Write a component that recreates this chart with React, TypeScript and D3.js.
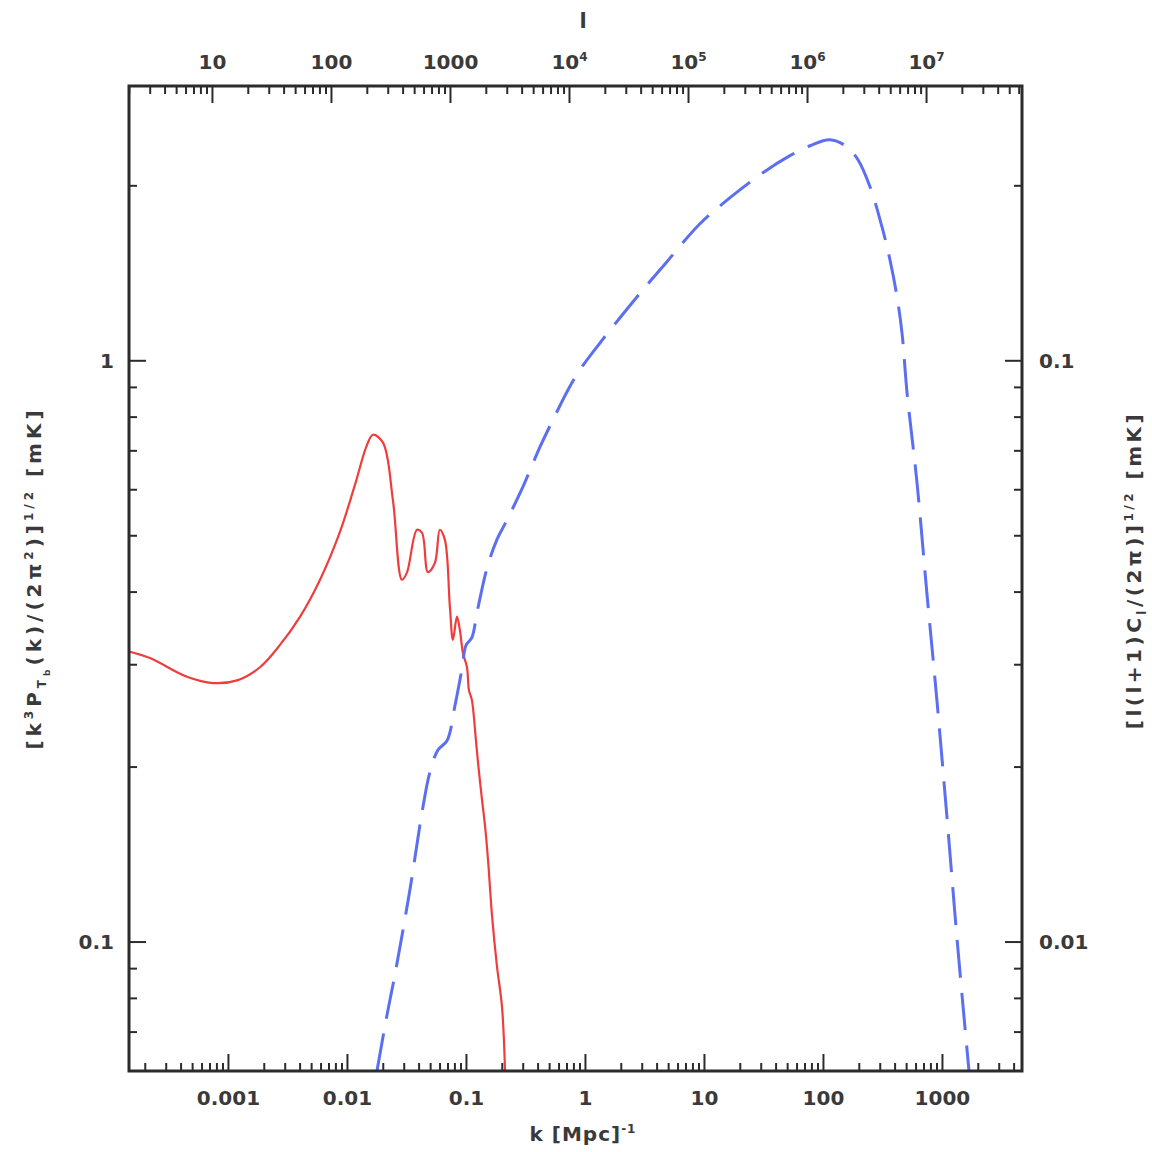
import React from "react";
import * as d3 from "d3";

// ---- data ----
const kDomain = [1.46e-4, 4660];
const lDomain = [1.99, 6.34e7];
const leftDomain = [0.06, 2.97];
const rightDomain = [0.006, 0.297];

const bottomTicks = [0.001, 0.01, 0.1, 1, 10, 100, 1000];
const bottomLabels = ["0.001", "0.01", "0.1", "1", "10", "100", "1000"];
const topTicks = [10, 100, 1000, 1e4, 1e5, 1e6, 1e7];
const topLabelBase = ["10", "100", "1000", "10", "10", "10", "10"];
const topLabelExp = ["", "", "", "4", "5", "6", "7"];
const leftTicks = [0.1, 1];
const leftLabels = ["0.1", "1"];
const rightTicks = [0.01, 0.1];
const rightLabels = ["0.01", "0.1"];

// 21cm power spectrum (left axis), red solid
const redK = [
  1.46e-4, 2.19e-4, 4.48e-4, 7.41e-4, 1.18e-3, 1.84e-3, 2.71e-3, 3.99e-3, 5.87e-3, 8.65e-3,
  1.156e-2, 1.46e-2, 1.64e-2, 1.99e-2, 2.41e-2, 2.87e-2, 3.16e-2, 3.84e-2, 4.23e-2, 4.75e-2,
  5.43e-2, 5.98e-2, 6.59e-2, 7.26e-2, 7.7e-2, 8.32e-2, 8.81e-2, 9.35e-2, 0.101, 0.105,
  0.111, 0.12, 0.125, 0.135, 0.143, 0.152, 0.164, 0.18, 0.199, 0.211,
];
const redT = [
  0.316, 0.308, 0.286, 0.279, 0.282, 0.297, 0.3245, 0.3627, 0.4198, 0.5078,
  0.6118, 0.7167, 0.746, 0.723, 0.576, 0.42, 0.432, 0.512, 0.506, 0.433,
  0.449, 0.512, 0.492, 0.377, 0.331, 0.363, 0.344, 0.314, 0.297, 0.271,
  0.261, 0.223, 0.204, 0.176, 0.159, 0.138, 0.111, 0.0913, 0.0773, 0.06,
];

// angular power spectrum (right axis), blue dashed
const blueK = [
  1.77e-2, 2.11e-2, 2.51e-2, 3.35e-2, 4.23e-2, 4.93e-2, 5.76e-2, 6.86e-2, 8.0e-2, 9.16e-2,
  9.91e-2, 0.111, 0.123, 0.149, 0.18, 0.219, 0.298, 0.415, 0.533, 0.713,
  0.899, 1.25, 1.95, 3.04, 4.84, 9.17, 16.4, 31.0, 52.3, 77.1,
  113.5, 157, 195, 246, 310, 362, 415, 457, 504,
  611, 741, 899, 1091, 1324, 1545, 1671,
];
const blueC = [
  0.006, 7.34e-3, 8.81e-3, 1.23e-2, 1.67e-2, 1.96e-2, 2.14e-2, 2.22e-2, 2.55e-2, 2.95e-2,
  3.24e-2, 3.34e-2, 3.7e-2, 4.4e-2, 4.92e-2, 5.32e-2, 6.07e-2, 7.11e-2, 7.91e-2, 8.91e-2,
  9.65e-2, 0.1057, 0.1186, 0.1325, 0.1481, 0.1721, 0.1908, 0.2107, 0.2254, 0.2344,
  0.24, 0.2335, 0.2218, 0.1993, 0.1701, 0.1492, 0.1289, 0.1117, 0.0881,
  0.0617, 0.0397, 0.026, 0.0164, 0.01016, 0.00714, 0.006,
];

// ---- layout ----
const W = 1152;
const H = 1152;
const L = 129, R = 1022, T = 86, B = 1071;
const FONT = "'DejaVu Sans', sans-serif";
const INK = "#2b2b2b";
const TXT = "#3a3a3a";

function minorTicks(domain: number[]) {
  const out: number[] = [];
  const lo = Math.floor(Math.log10(domain[0]));
  const hi = Math.ceil(Math.log10(domain[1]));
  for (let e = lo; e <= hi; e++) {
    for (let m = 2; m <= 9; m++) {
      const v = m * Math.pow(10, e);
      if (v > domain[0] && v < domain[1]) out.push(v);
    }
  }
  return out;
}

type Part = { t: string; s?: number; f?: number };
function Rich({ parts, size, ...rest }: any) {
  let cur = 0;
  return (
    <text {...rest} fontSize={size}>
      {parts.map((p: Part, i: number) => {
        const s = p.s || 0;
        const dy = s - cur;
        cur = s;
        return (
          <tspan key={i} dy={dy} fontSize={p.f ? p.f : size}>
            {p.t}
          </tspan>
        );
      })}
    </text>
  );
}

export default function App() {
  const x = d3.scaleLog().domain(kDomain).range([L, R]);
  const xt = d3.scaleLog().domain(lDomain).range([L, R]);
  const yl = d3.scaleLog().domain(leftDomain).range([B, T]);
  const yr = d3.scaleLog().domain(rightDomain).range([B, T]);

  const redPts = redK.map((k, i) => [x(k), yl(redT[i])] as [number, number]);
  const bluePts = blueK.map((k, i) => [x(k), yr(blueC[i])] as [number, number]);
  const line = d3.line().curve(d3.curveCatmullRom.alpha(0.5));

  const MAJ = 17, MIN = 8;
  const tickStroke = { stroke: INK, strokeWidth: 2 };
  const lab = { fontFamily: FONT, fontWeight: "bold" as const, fill: TXT };

  return (
    <svg width={W} height={H} style={{ position: "absolute", left: 0, top: 0, background: "#fff" }}>
      <defs>
        <clipPath id="plot">
          <rect x={L} y={T} width={R - L} height={B - T} />
        </clipPath>
      </defs>
      <rect x={0} y={0} width={W} height={H} fill="#fff" />

      {/* curves */}
      <g clipPath="url(#plot)" fill="none">
        <path d={line(redPts) || ""} stroke="#ef3d3d" strokeWidth={2.2} />
        <path d={line(bluePts) || ""} stroke="#5c6ff0" strokeWidth={3} strokeDasharray="38,15" />
      </g>

      {/* bottom ticks */}
      <g>
        {bottomTicks.map((v) => (
          <line key={"bM" + v} x1={x(v)} x2={x(v)} y1={B} y2={B - MAJ} {...tickStroke} />
        ))}
        {minorTicks(kDomain).map((v) => (
          <line key={"bm" + v} x1={x(v)} x2={x(v)} y1={B} y2={B - MIN} {...tickStroke} />
        ))}
        {bottomTicks.map((v, i) => (
          <text key={"bl" + v} x={x(v)} y={1105} textAnchor="middle" fontSize={20} {...lab}>
            {bottomLabels[i]}
          </text>
        ))}
        <Rich
          x={583}
          y={1141}
          textAnchor="middle"
          {...lab}
          letterSpacing={1}
          size={20}
          parts={[{ t: "k [Mpc]" }, { t: "-1", s: -8, f: 12 }]}
        />
      </g>

      {/* top ticks */}
      <g>
        {topTicks.map((v) => (
          <line key={"tM" + v} x1={xt(v)} x2={xt(v)} y1={T} y2={T + MAJ} {...tickStroke} />
        ))}
        {minorTicks(lDomain).map((v) => (
          <line key={"tm" + v} x1={xt(v)} x2={xt(v)} y1={T} y2={T + MIN} {...tickStroke} />
        ))}
        {topTicks.map((v, i) => (
          <Rich
            key={"tl" + v}
            x={xt(v)}
            y={69}
            textAnchor="middle"
            {...lab}
            size={20}
            parts={topLabelExp[i] ? [{ t: topLabelBase[i] }, { t: topLabelExp[i], s: -8, f: 12 }] : [{ t: topLabelBase[i] }]}
          />
        ))}
        <text x={583} y={28} textAnchor="middle" fontSize={21} {...lab}>
          l
        </text>
      </g>

      {/* left ticks */}
      <g>
        {leftTicks.map((v) => (
          <line key={"lM" + v} x1={L} x2={L + MAJ} y1={yl(v)} y2={yl(v)} {...tickStroke} />
        ))}
        {minorTicks(leftDomain).map((v) => (
          <line key={"lm" + v} x1={L} x2={L + MIN} y1={yl(v)} y2={yl(v)} {...tickStroke} />
        ))}
        {leftTicks.map((v, i) => (
          <text key={"ll" + v} x={114} y={yl(v) + 7} textAnchor="end" fontSize={20} {...lab}>
            {leftLabels[i]}
          </text>
        ))}
        <Rich
          transform="translate(41,578) rotate(-90)"
          textAnchor="middle"
          {...lab}
          letterSpacing={4}
          size={20}
          parts={[
            { t: "[k" },
            { t: "3", s: -8, f: 12 },
            { t: "P" },
            { t: "T", s: 5, f: 12 },
            { t: "b", s: 9, f: 9 },
            { t: "(k)/(2π" },
            { t: "2", s: -8, f: 12 },
            { t: ")]" },
            { t: "1/2", s: -8, f: 12 },
            { t: "  [mK]" },
          ]}
        />
      </g>

      {/* right ticks */}
      <g>
        {rightTicks.map((v) => (
          <line key={"rM" + v} x1={R} x2={R - MAJ} y1={yr(v)} y2={yr(v)} {...tickStroke} />
        ))}
        {minorTicks(rightDomain).map((v) => (
          <line key={"rm" + v} x1={R} x2={R - MIN} y1={yr(v)} y2={yr(v)} {...tickStroke} />
        ))}
        {rightTicks.map((v, i) => (
          <text key={"rl" + v} x={1039} y={yr(v) + 7} textAnchor="start" fontSize={20} {...lab}>
            {rightLabels[i]}
          </text>
        ))}
        <Rich
          transform="translate(1141,570) rotate(-90)"
          textAnchor="middle"
          {...lab}
          letterSpacing={3.5}
          size={20}
          parts={[
            { t: "[l(l+1)C" },
            { t: "l", s: 5, f: 12 },
            { t: "/(2π)]" },
            { t: "1/2", s: -8, f: 12 },
            { t: " [mK]" },
          ]}
        />
      </g>

      {/* frame */}
      <rect x={L} y={T} width={R - L} height={B - T} fill="none" stroke={INK} strokeWidth={3} />
    </svg>
  );
}
